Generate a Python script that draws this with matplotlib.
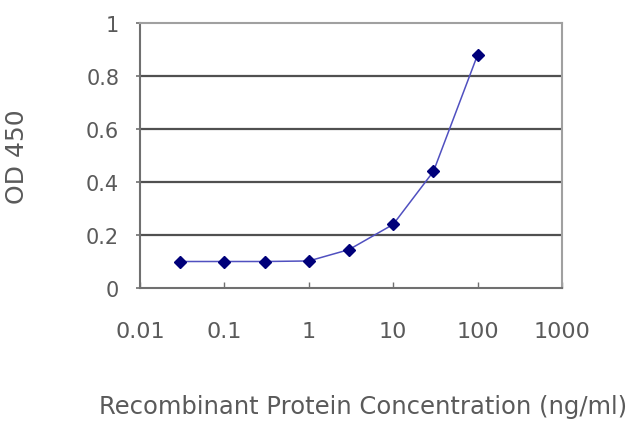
import matplotlib
matplotlib.use("Agg")
import matplotlib.pyplot as plt

conc = [0.03, 0.1, 0.3, 1, 3, 10, 30, 100]
od = [0.100, 0.100, 0.100, 0.102, 0.145, 0.240, 0.440, 0.880]
x_ticks = [0.01, 0.1, 1, 10, 100, 1000]
x_ticklabels = ["0.01", "0.1", "1", "10", "100", "1000"]
y_ticks = [0, 0.2, 0.4, 0.6, 0.8, 1]
y_ticklabels = ["0", "0.2", "0.4", "0.6", "0.8", "1"]

plt.rcParams['font.family'] = ['DejaVu Sans']
text_color = '#5a5a5a'

fig = plt.figure(figsize=(6.4, 4.27), dpi=100)
ax = fig.add_axes([140/640, 1 - 289/427, (562-140)/640, (289-24)/427])

ax.plot(conc, od, color='#5050c0', lw=1.1, zorder=3)
ax.plot(conc, od, linestyle='none', marker='D', markersize=6.5,
        color='#00007a', zorder=4)

ax.set_xscale('log')
ax.set_xlim(0.01, 1000)
ax.set_ylim(0, 1)
ax.set_xticks(x_ticks)
ax.set_xticklabels(x_ticklabels)
ax.minorticks_off()
ax.set_yticks(y_ticks)
ax.set_yticklabels(y_ticklabels)

for y in y_ticks[1:-1]:
    ax.axhline(y, color='#505050', lw=1.6, zorder=1)

ax.spines['top'].set_color('#a0a0a0')
ax.spines['right'].set_color('#a0a0a0')
ax.spines['left'].set_color('#707070')
ax.spines['bottom'].set_color('#707070')
for s in ax.spines.values():
    s.set_linewidth(1.5)

ax.tick_params(axis='x', direction='in', length=4, width=1, color='#707070',
               pad=24, labelsize=16, labelcolor=text_color)
ax.tick_params(axis='y', direction='out', length=3, width=1.2, color='#707070',
               pad=12, labelsize=15, labelcolor=text_color)

fig.text(363/640, 1 - 407/427, "Recombinant Protein Concentration (ng/ml)",
         ha='center', va='center', fontsize=17.5, color=text_color)
fig.text(17/640, 1 - 157/427, "OD 450", ha='center', va='center',
         rotation=90, fontsize=18, color=text_color)

fig.savefig("out.png", dpi=100)
